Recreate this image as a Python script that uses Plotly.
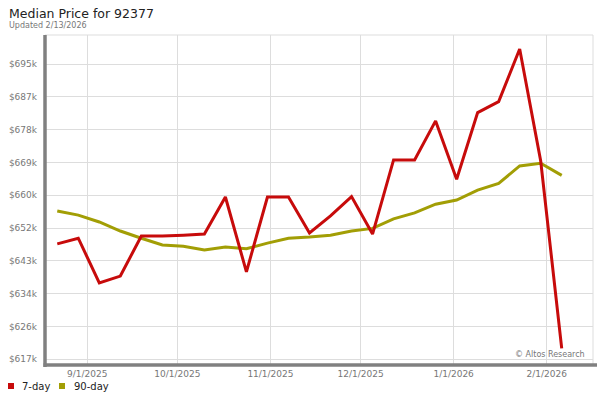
import plotly.graph_objects as go

dates = ["2025-08-22", "2025-08-29", "2025-09-05", "2025-09-12", "2025-09-19",
         "2025-09-26", "2025-10-03", "2025-10-10", "2025-10-17", "2025-10-24",
         "2025-10-31", "2025-11-07", "2025-11-14", "2025-11-21", "2025-11-28",
         "2025-12-05", "2025-12-12", "2025-12-19", "2025-12-26", "2026-01-02",
         "2026-01-09", "2026-01-16", "2026-01-23", "2026-01-30", "2026-02-06"]

price_7day = [647900, 649400, 637600, 639400, 650000, 650000, 650200, 650500, 660300, 640500,
              660300, 660300, 650800, 655300, 660400, 650500, 670100, 670100, 680400, 665000,
              682600, 685500, 699400, 669800, 620300]

price_90day = [656600, 655500, 653700, 651300, 649400, 647600, 647300, 646300, 647100, 646600,
               648100, 649400, 649700, 650200, 651300, 652000, 654500, 656100, 658400, 659500,
               662100, 663900, 668500, 669200, 666000]

y_tick_vals = [617400, 626067, 634733, 643400, 652067, 660733, 669400, 678067, 686733, 695400]
y_tick_text = ["$617k", "$626k", "$634k", "$643k", "$652k", "$660k", "$669k", "$678k", "$687k", "$695k"]

x_tick_vals = ["2025-09-01", "2025-10-01", "2025-11-01", "2025-12-01", "2026-01-01", "2026-02-01"]
x_tick_text = ["9/1/2025", "10/1/2025", "11/1/2025", "12/1/2025", "1/1/2026", "2/1/2026"]

RED = "#c70b0b"
OLIVE = "#a29e05"
FONT = "DejaVu Sans"

fig = go.Figure()
fig.add_trace(go.Scatter(x=dates, y=price_90day, mode="lines", name="90-day",
                         line=dict(color=OLIVE, width=3), showlegend=False))
fig.add_trace(go.Scatter(x=dates, y=price_7day, mode="lines", name="7-day",
                         line=dict(color=RED, width=3), showlegend=False))

L, R, T, B = 45, 7, 35, 35
W, H = 600, 400
pw, ph = W - L - R, H - T - B

def px_x(p):
    return (p - L) / pw

def px_y(p):
    return (H - B - p) / ph

shapes = [
    # light frame top/right
    dict(type="line", xref="paper", yref="paper", x0=0, x1=1, y0=1, y1=1,
         line=dict(color="#dddddd", width=1)),
    dict(type="line", xref="paper", yref="paper", x0=1, x1=1, y0=0, y1=1,
         line=dict(color="#dddddd", width=1)),
    # thick gray axes
    dict(type="line", xref="paper", yref="paper", x0=0, x1=0, y0=px_y(367), y1=1,
         line=dict(color="#808080", width=3.5)),
    dict(type="line", xref="paper", yref="paper", x0=px_x(43.5), x1=px_x(597), y0=0, y1=0,
         line=dict(color="#808080", width=3.5)),
    # legend squares
    dict(type="rect", xref="paper", yref="paper", x0=px_x(8), x1=px_x(14),
         y0=px_y(389), y1=px_y(383), fillcolor=RED, line=dict(width=0)),
    dict(type="rect", xref="paper", yref="paper", x0=px_x(59), x1=px_x(65),
         y0=px_y(389), y1=px_y(383), fillcolor=OLIVE, line=dict(width=0)),
]

annotations = [
    dict(text="Median Price for 92377", xref="paper", yref="paper", x=px_x(7), y=px_y(13),
         xanchor="left", yanchor="middle", showarrow=False,
         font=dict(family=FONT, size=12.5, color="#222222")),
    dict(text="Updated 2/13/2026", xref="paper", yref="paper", x=px_x(7), y=px_y(25),
         xanchor="left", yanchor="middle", showarrow=False,
         font=dict(family=FONT, size=8, color="#777777")),
    dict(text="7-day", xref="paper", yref="paper", x=px_x(19.5), y=px_y(386),
         xanchor="left", yanchor="middle", showarrow=False,
         font=dict(family=FONT, size=10, color="#222222")),
    dict(text="90-day", xref="paper", yref="paper", x=px_x(71.5), y=px_y(386),
         xanchor="left", yanchor="middle", showarrow=False,
         font=dict(family=FONT, size=10, color="#222222")),
    dict(text="© Altos Research", xref="paper", yref="paper", x=px_x(587), y=px_y(354),
         xanchor="right", yanchor="middle", showarrow=False,
         font=dict(family=FONT, size=8, color="#777777")),
]

fig.update_layout(
    width=W, height=H,
    margin=dict(l=L, r=R, t=T, b=B, pad=0),
    paper_bgcolor="white", plot_bgcolor="white",
    showlegend=False,
    shapes=shapes, annotations=annotations,
    font=dict(family=FONT),
    xaxis=dict(
        type="date",
        range=["2025-08-17 22:00", "2026-02-16 10:00"],
        tickvals=x_tick_vals, ticktext=x_tick_text,
        showgrid=True, gridcolor="#dddddd", gridwidth=1,
        zeroline=False, showline=False, ticks="",
        ticklabelstandoff=2,
        tickfont=dict(family=FONT, size=9, color="#777777"),
    ),
    yaxis=dict(
        range=[615900, 703100],
        tickvals=y_tick_vals, ticktext=y_tick_text,
        showgrid=True, gridcolor="#dddddd", gridwidth=1,
        zeroline=False, showline=False, ticks="",
        ticklabelstandoff=7,
        tickfont=dict(family=FONT, size=9, color="#777777"),
    ),
)

fig.write_html("out.html",
               config={"displayModeBar": False},
               post_script="document.body.style.margin='0';document.body.style.overflow='hidden';")
